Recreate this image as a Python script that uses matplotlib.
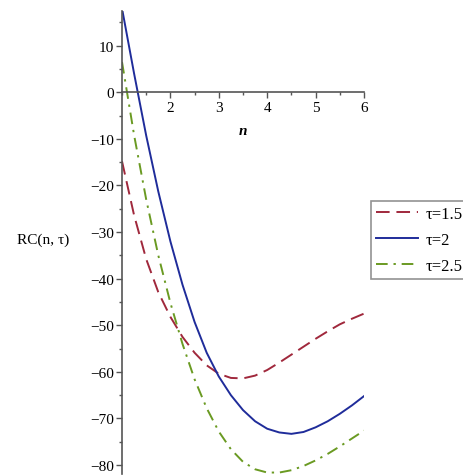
import numpy as np
import matplotlib
matplotlib.use('Agg')
from matplotlib import pyplot as plt
from matplotlib.ticker import MultipleLocator

# values at n = 1, 1.25, ..., 6
n = [1.0, 1.25, 1.5, 1.75, 2.0, 2.25, 2.5, 2.75, 3.0, 3.25, 3.5,
     3.75, 4.0, 4.25, 4.5, 4.75, 5.0, 5.25, 5.5, 5.75, 6.0]
rc_15 = [-14.8, -26.4, -35.8, -42.9, -48.2, -52.5, -55.9, -58.6, -60.4, -61.3, -61.4,
         -60.8, -59.6, -58.0, -56.3, -54.6, -52.9, -51.3, -49.8, -48.6, -47.5]
rc_2 = [18.0, 4.0, -9.3, -21.3, -32.0, -41.3, -49.3, -55.9, -61.0, -65.0, -68.2,
        -70.6, -72.2, -73.0, -73.3, -72.9, -71.9, -70.6, -69.0, -67.2, -65.2]
rc_25 = [6.5, -9.2, -23.0, -35.0, -45.2, -54.0, -61.6, -67.8, -72.8, -76.6, -79.3,
         -80.9, -81.6, -81.6, -81.1, -80.2, -79.0, -77.6, -76.0, -74.3, -72.6]
labels = ['τ=1.5', 'τ=2', 'τ=2.5']
xticks = [2, 3, 4, 5, 6]
yticks = [10, 0, -10, -20, -30, -40, -50, -60, -70, -80]

plt.rcParams['font.family'] = ['Liberation Serif', 'DejaVu Serif']
plt.rcParams['font.size'] = 11

fig = plt.figure(figsize=(4.64, 4.77), dpi=100)
ax = fig.add_axes([122 / 464, 1.6 / 477, 242 / 464, 463.7 / 477])

ax.plot(n, rc_15, color='#A0283C', lw=1.4, dashes=(7, 3.5), label=labels[0])
ax.plot(n, rc_2, color='#1F2C9A', lw=1.4, label=labels[1])
ax.plot(n, rc_25, color='#6A9A22', lw=1.4, dashes=(6, 3, 1.2, 3), label=labels[2])

ax.set_xlim(1, 6)
ax.set_ylim(-82, 17.5)

#axes cross at (1, 0)
ax.spines['right'].set_visible(False)
ax.spines['top'].set_visible(False)
ax.spines['bottom'].set_position(('data', 0))
ax.spines['left'].set_color('#555555')
ax.spines['bottom'].set_color('#555555')
ax.spines['left'].set_linewidth(1.2)
ax.spines['bottom'].set_linewidth(1.2)

ax.set_xticks(xticks)
ax.set_yticks(yticks)
ax.xaxis.set_minor_locator(MultipleLocator(0.5))
ax.yaxis.set_minor_locator(MultipleLocator(5))
ax.tick_params(which='major', length=4, width=1, color='#555555', labelsize=11, pad=2)
ax.tick_params(which='minor', length=2.5, width=1, color='#555555')

ax.text(3.49, -8.2, 'n', fontsize=11, fontstyle='italic', fontweight='bold',
        ha='center', va='center')
fig.text(43 / 464, 1 - 240 / 477, 'RC(n, τ)', fontsize=11, ha='center', va='center')

leg = fig.legend(loc='upper left', bbox_to_anchor=(371 / 464, 1 - 202 / 477),
                 fontsize=12, frameon=True, fancybox=False, handlelength=2.5,
                 handletextpad=0.45, borderpad=0.3, labelspacing=0.6,
                 borderaxespad=0)
leg.get_frame().set_edgecolor('#777777')
leg.get_frame().set_linewidth(1.2)

fig.savefig('out.png', dpi=100)
